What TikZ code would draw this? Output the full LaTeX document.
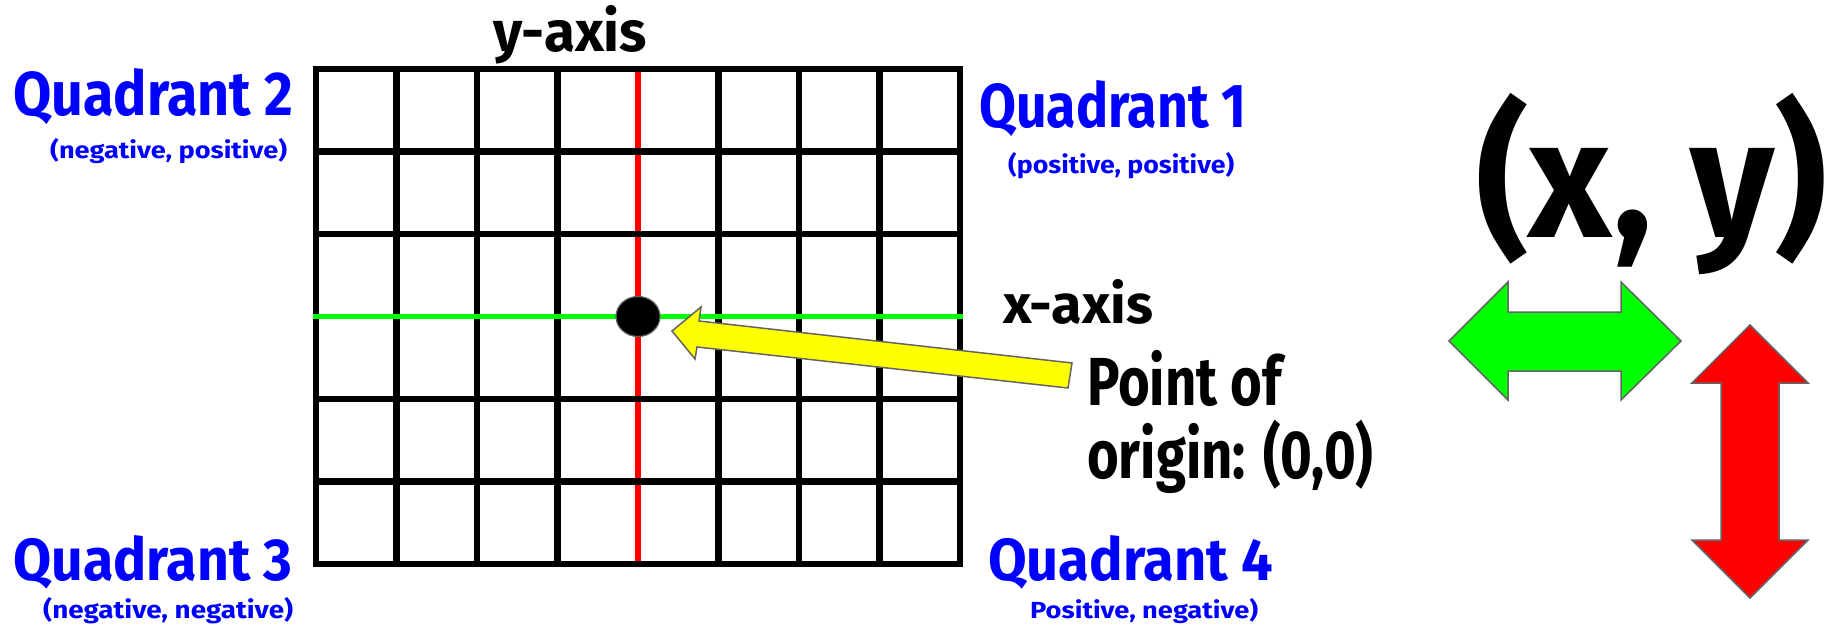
\documentclass[tikz,border=0pt]{standalone}
\usepackage{fontspec}
\usepackage{graphicx}
\usetikzlibrary{shapes.geometric}
\newfontfamily\hand{Fira Sans}[FakeStretch=0.8]
\definecolor{qblue}{RGB}{0,0,255}
\definecolor{agreen}{RGB}{0,255,0}
\definecolor{ared}{RGB}{255,0,0}
\definecolor{ayellow}{RGB}{255,255,0}
\definecolor{edgegray}{RGB}{100,100,100}
\newcommand\fitwh[3]{\resizebox{#1pt}{#2pt}{\hand\bfseries #3}}
\begin{document}
\begin{tikzpicture}[x=1pt,y=-1pt,
  lbl/.style={inner sep=0pt, anchor=base west},
  quad/.style={lbl, text=qblue},
  axislbl/.style={lbl, text=black},
  gridline/.style={line width=6.2pt, black},
  blockarrow/.style={draw=edgegray, line width=1.5pt, line join=miter}]
\useasboundingbox (0,0) rectangle (1839,634);
\fill[white] (0,0) rectangle (1839,634);

% grid
\draw[ared, line width=5.2pt] (638,72) -- (638,561);
\foreach \gx in {396.5,477,557.5,718.5,799,879.5}
  \draw[gridline] (\gx,69) -- (\gx,564);
\foreach \gy in {151.5,234,399,481.5}
  \draw[gridline] (316,\gy) -- (960,\gy);
\draw[gridline] (316,69) rectangle (960,564);
\draw[agreen, line width=5.5pt] (313,316.5) -- (963,316.5);

% origin point
\node[ellipse, draw=edgegray, fill=black, line width=1.2pt, inner sep=0pt,
      minimum width=44pt, minimum height=40pt] (origin) at (638,316.5) {};

% yellow pointer
\draw[blockarrow, fill=ayellow] (672,331) -- (701,307) -- (699,321) -- (1072,363)
  -- (1068,388) -- (697,347) -- (695,359) -- cycle;

% green and red double arrows
\draw[blockarrow, fill=agreen] (1449,341) -- (1508,282) -- (1508,312) -- (1621,312)
  -- (1621,282) -- (1681,341) -- (1621,400) -- (1621,371) -- (1508,371) -- (1508,400) -- cycle;
\draw[blockarrow, fill=ared] (1750,325) -- (1808,383) -- (1779,383) -- (1779,540)
  -- (1808,540) -- (1750,598) -- (1692,540) -- (1721,540) -- (1721,383) -- (1692,383) -- cycle;

% labels
\node[axislbl] (yaxis) at (493,52) {\fitwh{154}{46}{y-axis}};
\node[axislbl] (xaxis) at (1003,323) {\fitwh{150}{44}{x-axis}};
\node[quad] (q2) at (13,115) {\fitwh{280}{47}{Quadrant 2}};
\node[quad] (q2s) at (50,158) {\fitwh{237}{20}{(negative, positive)}};
\node[quad] (q1) at (979,127) {\fitwh{267}{47}{Quadrant 1}};
\node[quad] (q1s) at (1008,173) {\fitwh{226}{21}{(positive, positive)}};
\node[quad] (q3) at (13,580) {\fitwh{279}{45}{Quadrant 3}};
\node[quad] (q3s) at (43,618) {\fitwh{250}{21}{(negative, negative)}};
\node[quad] (q4) at (988,580) {\fitwh{285}{45}{Quadrant 4}};
\node[quad] (q4s) at (1030,618) {\fitwh{228}{20}{Positive, negative)}};
\node[axislbl] (xy) at (1476,237) {\fitwh{351}{144}{(x, y)}};
\node[lbl, align=left, font=\hand\bfseries\fontsize{68}{73}\selectfont] (ptorigin)
  at (1087,478) {Point of\\origin: (0,0)};
\end{tikzpicture}
\end{document}
